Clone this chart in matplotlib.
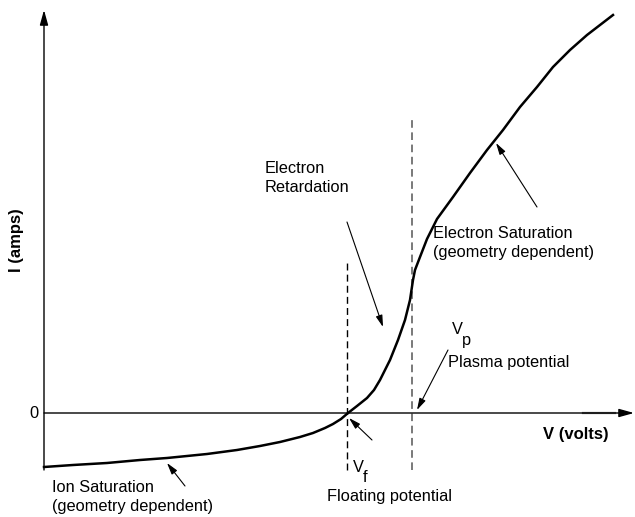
import matplotlib
matplotlib.use("Agg")
import matplotlib.pyplot as plt

plt.rcParams['font.family'] = ['Liberation Sans', 'DejaVu Sans']

# I-V characteristic of the probe (arbitrary units)
volts = [0.0, 2.9, 6.3, 9.6, 12.3, 16.3, 19.3, 21.6, 23.6, 25.6, 26.9, 28.1,
         28.9, 29.7, 30.4, 31.3, 32.3, 33.0, 33.6, 34.6, 35.4, 36.1, 36.6,
         36.9, 37.1, 37.6, 38.3, 39.3, 40.9, 42.6, 44.3, 45.9, 47.6, 49.3,
         50.9, 52.6, 54.3, 56.9]
amps = [-5.4, -5.2, -5.0, -4.7, -4.5, -4.1, -3.7, -3.3, -2.9, -2.4, -2.0, -1.5,
        -1.1, -0.6, 0.0, 0.7, 1.5, 2.3, 3.3, 5.3, 7.3, 9.3, 11.3,
        13.3, 14.3, 15.6, 17.4, 19.4, 21.6, 24.0, 26.3, 28.3, 30.6, 32.6,
        34.6, 36.3, 37.8, 39.8]

v_float = 30.3
v_plasma = 36.8

fig = plt.figure(figsize=(6.35, 5.17), dpi=100)
ax = fig.add_axes([0, 0, 1, 1])
ax.set_xlim(-4.4, 59.1)
ax.set_ylim(-10.4, 41.3)
ax.axis('off')

# axes with arrows
ax.annotate('', xy=(59.0, 0), xytext=(0, 0),
            arrowprops=dict(arrowstyle='-|>,head_length=0.9,head_width=0.25', color='black', lw=1.0, shrinkA=0, shrinkB=0))
ax.plot([53.9, 57.1], [0.05, 0.05], color='#666666', lw=1.6)
ax.annotate('', xy=(0, 40.3), xytext=(0, -5.7),
            arrowprops=dict(arrowstyle='-|>,head_length=0.9,head_width=0.25', color='black', lw=1.0, shrinkA=0, shrinkB=0))

# floating / plasma potential markers
ax.plot([v_float, v_float], [-5.7, 15.1], color='black', lw=1.0, dashes=(5, 3))
ax.plot([v_plasma, v_plasma], [-5.7, 29.5], color='#555555', lw=1.1, dashes=(5, 3))

# the curve
ax.plot(volts, amps, color='black', lw=1.8, solid_joinstyle='round')

fs = 11.8
ax.text(-0.5, 0, '0', ha='right', va='center', fontsize=fs)
ax.text(-2.7, 17.3, 'I (amps)', rotation=90, ha='center', va='center', fontsize=12, fontweight='bold')
ax.text(53.2, -2.2, 'V (volts)', ha='center', va='center', fontsize=12, fontweight='bold')

ax.text(22.1, 23.5, 'Electron\nRetardation', ha='left', va='center', fontsize=fs, linespacing=1.35)
ax.text(38.9, 17.0, 'Electron Saturation\n(geometry dependent)', ha='left', va='center', fontsize=fs, linespacing=1.35)
ax.text(0.8, -8.4, 'Ion Saturation\n(geometry dependent)', ha='left', va='center', fontsize=fs, linespacing=1.35)
ax.text(40.8, 8.4, 'V', ha='left', va='center', fontsize=fs)
ax.text(41.8, 7.2, 'p', ha='left', va='center', fontsize=fs)
ax.text(40.4, 5.1, 'Plasma potential', ha='left', va='center', fontsize=fs)
ax.text(30.9, -5.5, 'V', ha='left', va='center', fontsize=fs)
ax.text(31.9, -6.5, 'f', ha='left', va='center', fontsize=fs)
ax.text(28.3, -8.3, 'Floating potential', ha='left', va='center', fontsize=fs)

arrow = dict(arrowstyle='-|>,head_length=0.7,head_width=0.2', color='black', lw=0.8, shrinkA=0, shrinkB=0)
ax.annotate('', xy=(33.9, 8.6), xytext=(30.3, 19.1), arrowprops=arrow)
ax.annotate('', xy=(45.2, 27.0), xytext=(49.3, 20.6), arrowprops=arrow)
ax.annotate('', xy=(37.3, 0.3), xytext=(40.4, 6.3), arrowprops=arrow)
ax.annotate('', xy=(30.5, -0.5), xytext=(32.8, -2.7), arrowprops=arrow)
ax.annotate('', xy=(12.3, -5.0), xytext=(14.1, -7.3), arrowprops=arrow)

fig.savefig('out.png', dpi=100)
